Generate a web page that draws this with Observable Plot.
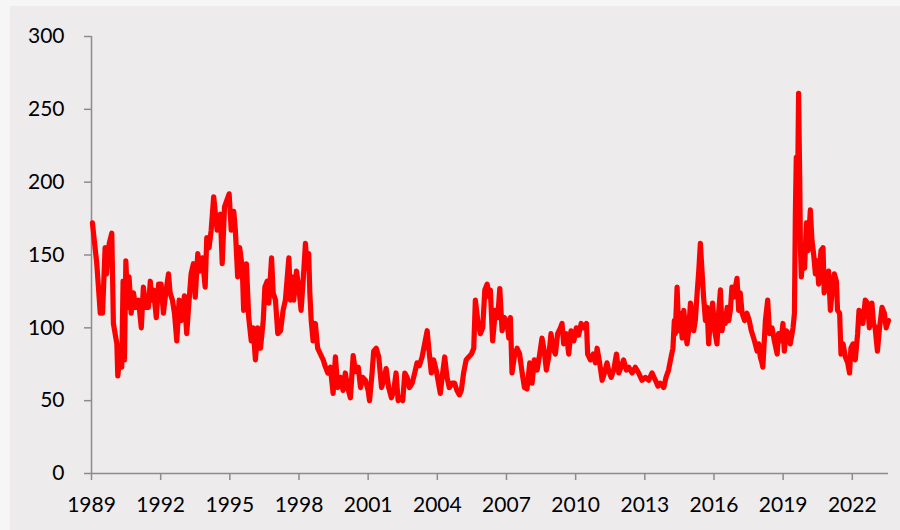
<!DOCTYPE html>
<html><head><meta charset="utf-8">
<script src="https://cdn.jsdelivr.net/npm/d3@7"></script>
<script src="https://cdn.jsdelivr.net/npm/@observablehq/plot@0.6"></script>
<style>
html,body{margin:0;padding:0;background:#F6F6F6;width:900px;height:530px;overflow:hidden;}
#chart{position:absolute;left:10px;top:6px;width:890px;height:524px;background:#EDEBEB;}
#chart svg{display:block;}
</style></head><body><div id="chart"></div>
<script>
const dates = [
1989.04,1989.23,1989.38,1989.48,1989.59,1989.65,1989.77,1989.88,1989.95,1990.10,
1990.14,1990.24,1990.31,1990.37,1990.43,1990.49,1990.57,1990.63,1990.72,1990.82,
1990.92,1991.04,1991.16,1991.25,1991.35,1991.47,1991.55,1991.61,1991.69,1991.81,
1991.91,1992.02,1992.12,1992.22,1992.34,1992.41,1992.51,1992.60,1992.70,1992.80,
1992.89,1993.03,1993.13,1993.21,1993.32,1993.42,1993.50,1993.61,1993.71,1993.81,
1993.93,1994.00,1994.10,1994.19,1994.30,1994.45,1994.51,1994.59,1994.67,1994.77,
1994.97,1995.06,1995.17,1995.24,1995.34,1995.43,1995.54,1995.60,1995.72,1995.82,
1995.93,1996.01,1996.11,1996.21,1996.33,1996.45,1996.52,1996.62,1996.69,1996.81,
1996.88,1996.98,1997.08,1997.20,1997.31,1997.41,1997.56,1997.63,1997.70,1997.77,
1997.89,1997.99,1998.09,1998.18,1998.28,1998.35,1998.42,1998.47,1998.53,1998.61,
1998.71,1998.81,1998.93,1999.05,1999.15,1999.25,1999.36,1999.48,1999.58,1999.68,
1999.80,1999.91,2000.01,2000.11,2000.23,2000.35,2000.45,2000.57,2000.67,2000.76,
2000.88,2001.00,2001.06,2001.17,2001.24,2001.35,2001.46,2001.58,2001.68,2001.78,
2001.89,2002.01,2002.11,2002.21,2002.30,2002.40,2002.50,2002.59,2002.69,2002.79,
2002.91,2003.02,2003.12,2003.22,2003.34,2003.45,2003.56,2003.63,2003.74,2003.84,
2003.95,2004.03,2004.13,2004.23,2004.32,2004.42,2004.52,2004.64,2004.75,2004.85,
2004.96,2005.04,2005.14,2005.25,2005.36,2005.48,2005.58,2005.65,2005.77,2005.87,
2005.97,2006.06,2006.16,2006.26,2006.30,2006.40,2006.52,2006.62,2006.71,2006.81,
2006.91,2007.03,2007.10,2007.17,2007.24,2007.34,2007.46,2007.57,2007.68,2007.78,
2007.89,2008.01,2008.11,2008.21,2008.33,2008.44,2008.54,2008.64,2008.73,2008.83,
2008.93,2009.02,2009.12,2009.22,2009.34,2009.41,2009.48,2009.60,2009.70,2009.80,
2009.92,2010.03,2010.13,2010.24,2010.35,2010.47,2010.52,2010.64,2010.76,2010.86,
2010.93,2011.04,2011.15,2011.25,2011.36,2011.43,2011.54,2011.65,2011.77,2011.87,
2011.97,2012.08,2012.20,2012.30,2012.45,2012.59,2012.73,2012.88,2013.02,2013.17,
2013.31,2013.46,2013.57,2013.67,2013.82,2013.92,2014.03,2014.14,2014.22,2014.28,
2014.32,2014.40,2014.47,2014.54,2014.62,2014.69,2014.76,2014.83,2014.90,2014.98,
2015.05,2015.12,2015.19,2015.27,2015.34,2015.41,2015.48,2015.55,2015.63,2015.70,
2015.77,2015.84,2015.94,2016.03,2016.13,2016.20,2016.28,2016.35,2016.42,2016.49,
2016.57,2016.64,2016.71,2016.78,2016.85,2016.93,2017.00,2017.07,2017.14,2017.22,
2017.33,2017.43,2017.53,2017.62,2017.72,2017.79,2017.87,2017.94,2018.01,2018.08,
2018.12,2018.23,2018.33,2018.41,2018.52,2018.62,2018.74,2018.80,2018.91,2018.99,
2019.05,2019.14,2019.24,2019.31,2019.43,2019.49,2019.53,2019.57,2019.63,2019.67,
2019.72,2019.75,2019.79,2019.86,2019.93,2020.01,2020.08,2020.18,2020.25,2020.32,
2020.40,2020.47,2020.54,2020.64,2020.73,2020.78,2020.87,2020.97,2021.05,2021.12,
2021.22,2021.31,2021.36,2021.45,2021.51,2021.60,2021.70,2021.80,2021.88,2021.94,
2022.03,2022.13,2022.23,2022.29,2022.38,2022.46,2022.56,2022.66,2022.74,2022.85,
2022.92,2022.99,2023.09,2023.18,2023.29,2023.39,2023.47,2023.57
];
const values = [
172,144,110,110,155,137,158,165,103,89,
67,82,73,132,78,146,114,135,110,124,
114,119,100,128,114,114,132,119,126,107,
130,130,110,124,137,124,119,110,91,119,
105,122,96,114,137,144,121,151,139,148,
128,162,155,167,190,167,176,178,144,183,
192,167,180,167,135,155,141,112,144,107,
91,100,78,100,86,105,128,132,117,148,
124,119,96,98,112,119,148,119,135,119,
139,128,112,132,158,141,151,124,105,91,
103,86,82,78,73,69,73,55,80,59,
66,57,69,59,52,81,70,73,59,66,
64,57,50,69,84,86,80,59,64,72,
59,52,57,69,50,52,50,69,66,59,
62,69,76,74,80,89,98,86,69,78,
71,64,55,69,80,66,59,62,62,57,
54,57,69,78,80,82,86,119,103,96,
100,126,130,121,126,91,112,107,127,98,
107,103,93,107,69,80,86,82,69,59,
58,76,62,78,71,82,93,84,71,80,
96,86,82,96,100,103,89,96,82,98,
91,100,95,103,100,103,82,78,82,76,
86,76,64,69,76,71,66,71,82,69,
73,78,71,73,69,73,69,64,66,64,
69,64,60,62,59,66,71,80,86,105,
96,128,98,110,93,112,100,89,98,117,
110,98,105,124,139,158,139,121,105,114,
89,105,117,98,89,110,126,98,107,103,
114,105,112,128,121,128,134,112,124,110,
105,110,105,98,93,89,84,89,80,76,
73,105,119,96,100,91,82,96,91,103,
84,98,96,89,100,110,178,217,201,261,
201,155,135,151,141,172,153,181,160,151,
137,146,130,153,155,124,132,139,112,124,
137,132,112,110,82,89,80,76,69,86,
89,78,96,112,110,103,119,117,100,117,
103,100,84,100,114,110,100,105
];
const xTicks = [1989,1992,1995,1998,2001,2004,2007,2010,2013,2016,2019,2022];
const yTicks = [0,50,100,150,200,250,300];

const data = dates.map((d, i) => ({date: d, value: values[i]}));
const axisGray = "#8C8C8C";

const plot = Plot.plot({
  width: 890,
  height: 524,
  marginLeft: 81,
  marginTop: 30,
  marginBottom: 57,
  marginRight: 12,
  style: {background: "transparent", fontFamily: "Lato, 'Open Sans', sans-serif", fontSize: "21px", color: "#000"},
  x: {domain: [1989, 2023.57]},
  y: {domain: [0, 300]},
  marks: [
    Plot.axisY({ticks: yTicks, tickSize: 7, tickPadding: 20, stroke: axisGray, strokeWidth: 1.5, fill: "#000", label: null, fontSize: 21}),
    Plot.axisX({ticks: xTicks, tickFormat: "d", tickSize: 7, tickPadding: 17, stroke: axisGray, strokeWidth: 1.5, fill: "#000", label: null, fontSize: 21}),
    Plot.ruleY([0], {stroke: axisGray, strokeWidth: 1.5}),
    Plot.ruleX([1989], {stroke: axisGray, strokeWidth: 1.5}),
    Plot.line(data, {x: "date", y: "value", stroke: "#FF0000", strokeWidth: 5.2, strokeLinejoin: "round", strokeLinecap: "round"})
  ]
});
document.getElementById("chart").appendChild(plot);
</script>
</body></html>
